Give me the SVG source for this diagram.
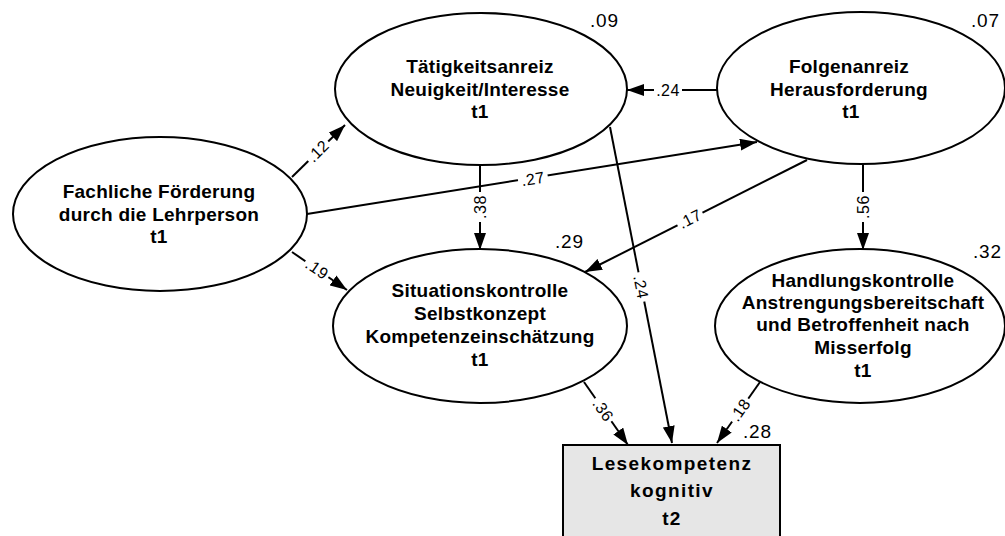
<svg xmlns="http://www.w3.org/2000/svg" width="1005" height="536" viewBox="0 0 1005 536">
<style>
.node{fill:#fff;stroke:#000;stroke-width:2}
.box{fill:#e6e6e6;stroke:#000;stroke-width:2}
.t{font-family:"Liberation Sans",Arial,sans-serif;font-weight:bold;font-size:19px;letter-spacing:0.25px;text-anchor:middle;fill:#000}
.tb{font-family:"Liberation Sans",Arial,sans-serif;font-weight:bold;font-size:19px;letter-spacing:1.4px;text-anchor:middle;fill:#000}
.r2{font-family:"Liberation Sans",Arial,sans-serif;font-size:19px;letter-spacing:0.8px;fill:#000}
.c{fill:none;stroke:#000;stroke-width:2}
.lb{font-family:"Liberation Sans",Arial,sans-serif;font-size:16px;letter-spacing:0.5px;text-anchor:middle;fill:#000}
.bg{fill:#fff}
</style>
<defs>
<marker id="ah" viewBox="0 0 17 12" refX="17" refY="6" markerWidth="17" markerHeight="12" markerUnits="userSpaceOnUse" orient="auto">
<path d="M0,0 L17,6 L0,12 z" fill="#000"/>
</marker>
</defs>

<g id="fachliche">
<ellipse class="node" cx="160" cy="214" rx="147" ry="77"/>
<text class="t" x="159" y="198">Fachliche Förderung</text>
<text class="t" x="159" y="220.5">durch die Lehrperson</text>
<text class="t" x="159" y="243">t1</text>
</g>

<g id="taetigkeit">
<ellipse class="node" cx="481" cy="89" rx="146" ry="76"/>
<text class="t" x="480" y="73">Tätigkeitsanreiz</text>
<text class="t" x="480" y="95.5">Neuigkeit/Interesse</text>
<text class="t" x="480" y="118">t1</text>
<text class="r2" x="590" y="27">.09</text>
</g>

<g id="folgen">
<ellipse class="node" cx="861" cy="88" rx="144" ry="76"/>
<text class="t" x="849" y="73">Folgenanreiz</text>
<text class="t" x="849" y="95.5">Herausforderung</text>
<text class="t" x="851" y="118">t1</text>
<text class="r2" x="971" y="27">.07</text>
</g>

<g id="situation">
<ellipse class="node" cx="480" cy="326" rx="147" ry="77"/>
<text class="t" x="480" y="297">Situationskontrolle</text>
<text class="t" x="480" y="320">Selbstkonzept</text>
<text class="t" x="480" y="343">Kompetenzeinschätzung</text>
<text class="t" x="480" y="366">t1</text>
<text class="r2" x="555" y="248">.29</text>
</g>

<g id="handlung">
<ellipse class="node" cx="860" cy="326" rx="145" ry="77"/>
<text class="t" x="863" y="287">Handlungskontrolle</text>
<text class="t" x="863" y="309">Anstrengungsbereitschaft</text>
<text class="t" x="863" y="331">und Betroffenheit nach</text>
<text class="t" x="863" y="354">Misserfolg</text>
<text class="t" x="863" y="377">t1</text>
<text class="r2" x="973" y="258">.32</text>
</g>

<g id="lesekompetenz">
<rect class="box" x="563" y="445" width="217" height="100"/>
<text class="tb" x="672" y="470">Lesekompetenz</text>
<text class="tb" x="672" y="497">kognitiv</text>
<text class="tb" x="672" y="525">t2</text>
<text class="r2" x="743" y="438">.28</text>
</g>

<g id="connectors">
<line class="c" x1="292" y1="177" x2="345" y2="125" marker-end="url(#ah)"/>
<line class="c" x1="307" y1="214" x2="757" y2="142" marker-end="url(#ah)"/>
<line class="c" x1="292" y1="252" x2="347" y2="290" marker-end="url(#ah)"/>
<line class="c" x1="480" y1="165" x2="480" y2="250" marker-end="url(#ah)"/>
<line class="c" x1="717" y1="90" x2="627" y2="90" marker-end="url(#ah)"/>
<line class="c" x1="807" y1="160" x2="585" y2="272" marker-end="url(#ah)"/>
<line class="c" x1="610" y1="127" x2="672" y2="443" marker-end="url(#ah)"/>
<line class="c" x1="584" y1="382" x2="628" y2="445" marker-end="url(#ah)"/>
<line class="c" x1="760" y1="382" x2="717" y2="443" marker-end="url(#ah)"/>
<line class="c" x1="863" y1="164" x2="863" y2="250" marker-end="url(#ah)"/>

<g transform="translate(318,151) rotate(-44.5)"><rect class="bg" x="-14" y="-7" width="28" height="14"/><text class="lb" y="5.5">.12</text></g>
<g transform="translate(533,179) rotate(-9.1)"><rect class="bg" x="-15" y="-7" width="30" height="14"/><text class="lb" y="5.5">.27</text></g>
<g transform="translate(317,269) rotate(34.6)"><rect class="bg" x="-14" y="-7" width="28" height="14"/><text class="lb" y="5.5">.19</text></g>
<g transform="translate(480,207) rotate(-90)"><rect class="bg" x="-15" y="-7" width="30" height="14"/><text class="lb" y="5.5">.38</text></g>
<g transform="translate(668,90)"><rect class="bg" x="-14" y="-7" width="28" height="14"/><text class="lb" y="5.5">.24</text></g>
<g transform="translate(690,219) rotate(-26.8)"><rect class="bg" x="-14" y="-7" width="28" height="14"/><text class="lb" y="5.5">.17</text></g>
<g transform="translate(641,287) rotate(78.9)"><rect class="bg" x="-15" y="-7" width="30" height="14"/><text class="lb" y="5.5">.24</text></g>
<g transform="translate(603,410) rotate(55.1)"><rect class="bg" x="-14" y="-7" width="28" height="14"/><text class="lb" y="5.5">.36</text></g>
<g transform="translate(740,410) rotate(-54.8)"><rect class="bg" x="-14" y="-7" width="28" height="14"/><text class="lb" y="5.5">.18</text></g>
<g transform="translate(863,207) rotate(-90)"><rect class="bg" x="-15" y="-7" width="30" height="14"/><text class="lb" y="5.5">.56</text></g>
</g>
</svg>
